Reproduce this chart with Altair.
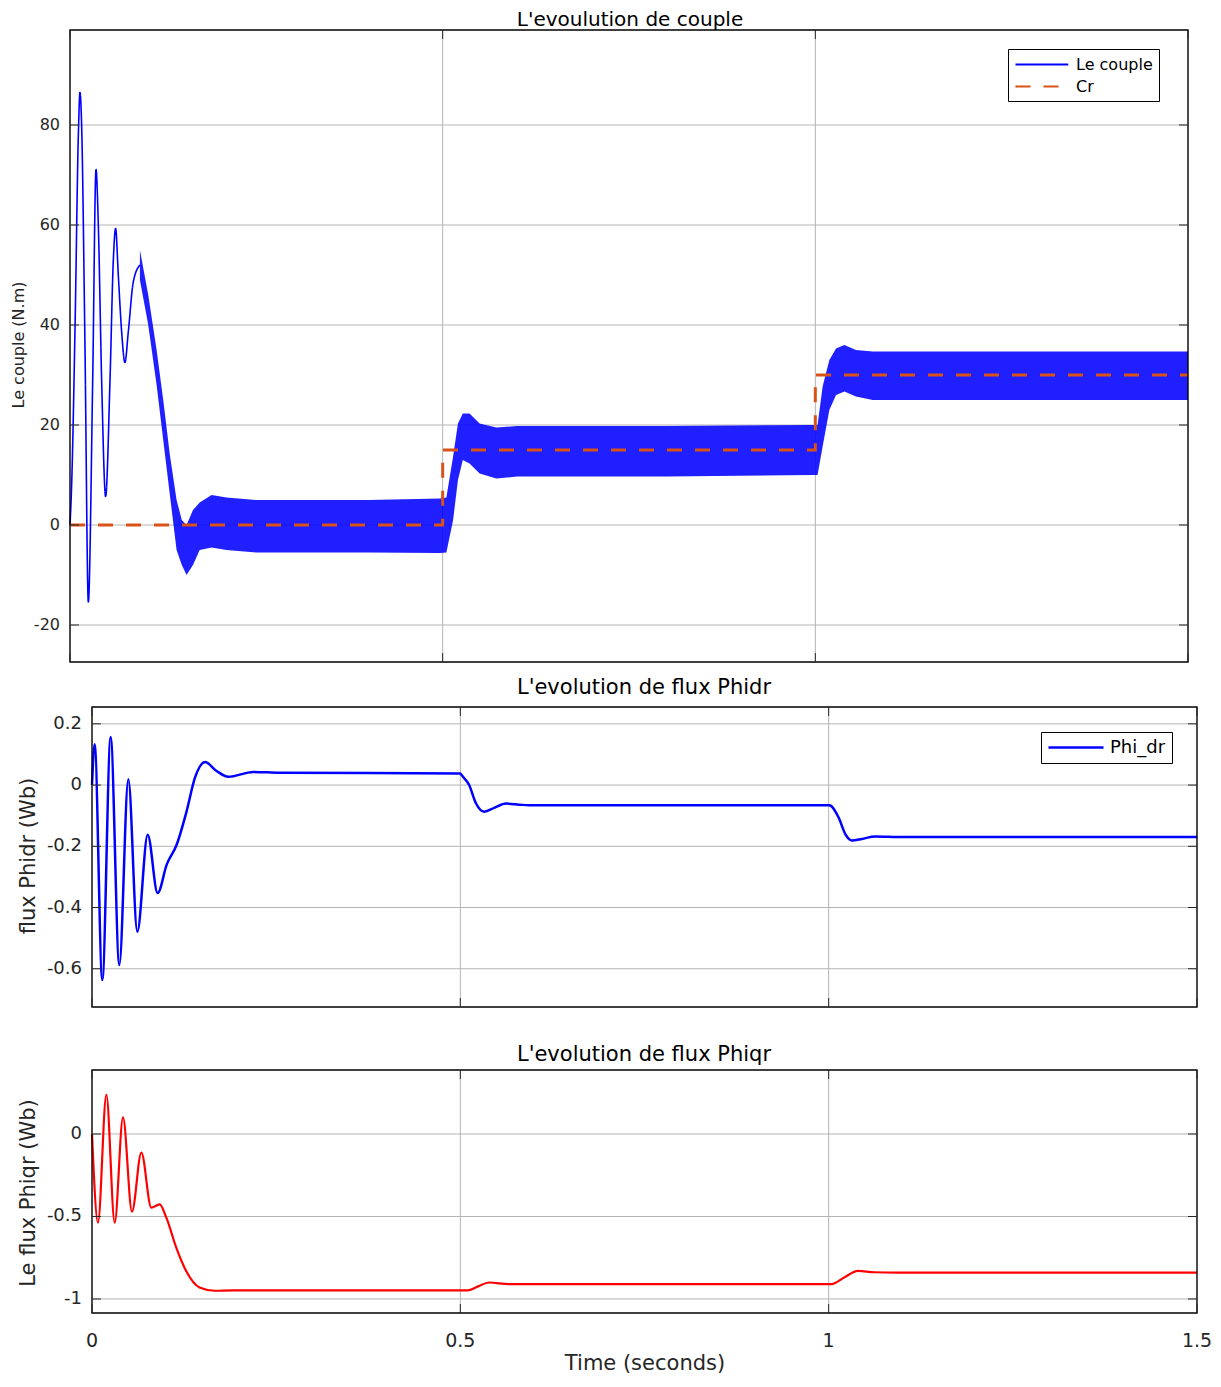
import altair as alt
import pandas as pd

# ---------------- values ----------------
# Top panel: electromagnetic torque (transient part, thin line)
COUPLE_T = [0.0, 0.0022, 0.0067, 0.0112, 0.0134, 0.0156, 0.0201, 0.0246, 0.0304, 0.0349,
            0.038, 0.0425, 0.0478, 0.0536, 0.0581, 0.0612, 0.0648, 0.0693, 0.0737,
            0.0782, 0.0849, 0.0938]
COUPLE_V = [0.0, 8.0, 39.0, 78.0, 86.5, 80.0, 35.7, -15.4, 28.6, 71.1,
            60.0, 28.6, 5.7, 28.6, 52.9, 59.3, 50.0, 38.6, 32.5,
            38.6, 48.6, 52.0]
# Top panel: envelope of the rippled torque band
BAND_T = [0.0938, 0.105, 0.1162, 0.1251, 0.134, 0.143, 0.150, 0.1564, 0.165, 0.174,
          0.19, 0.21, 0.25, 0.3, 0.4, 0.497, 0.505, 0.514, 0.5205, 0.527, 0.536,
          0.5496, 0.572, 0.6, 0.8, 0.997, 1.003, 1.0098, 1.0188, 1.0278, 1.039,
          1.0545, 1.077, 1.1, 1.3, 1.5]
BAND_HI = [55, 46, 35, 25, 14, 5, 1, 0, 3, 4.5,
           6, 5.5, 5, 5, 5, 5.3, 5.5, 13.7, 20.3, 22.3, 22.3,
           20.3, 19.5, 19.8, 19.8, 20, 20, 27.7, 33, 35.3, 36,
           35, 34.7, 34.7, 34.7, 34.7]
BAND_LO = [49, 40, 28, 17, 6, -5, -8, -10, -8, -5,
           -4.5, -5, -5.5, -5.5, -5.5, -5.6, -5.5, 1, 9, 13, 12.3,
           10.3, 9.3, 9.7, 9.7, 10, 10, 15.7, 23, 26, 26.7,
           25.7, 25, 25, 25, 25]
# Load torque reference Cr
CR_T = [0.0, 0.5, 0.5, 1.0, 1.0, 1.5]
CR_V = [0, 0, 15, 15, 30, 30]
# Middle panel: Phidr
PHIDR_T = [0.0, 0.0036, 0.014, 0.0253, 0.0371, 0.0493, 0.0615, 0.0756, 0.0891, 0.1014,
           0.1149, 0.1285, 0.1398, 0.1534, 0.1692, 0.185, 0.219, 0.255, 0.5, 0.5009,
           0.512, 0.521, 0.5325, 0.546, 0.562, 0.58, 0.5935, 1.0, 1.0009, 1.0135,
           1.0226, 1.0316, 1.045, 1.063, 1.099, 1.5]
PHIDR_V = [0.0, 0.133, -0.637, 0.157, -0.588, 0.019, -0.479, -0.162, -0.353, -0.26,
           -0.195, -0.085, 0.024, 0.075, 0.046, 0.027, 0.043, 0.04, 0.038, 0.035,
           0.0, -0.0585, -0.087, -0.0745, -0.0606, -0.064, -0.066, -0.066, -0.066, -0.106,
           -0.16, -0.181, -0.176, -0.168, -0.17, -0.17]
# Bottom panel: Phiqr
PHIQR_T = [0.0, 0.0081, 0.0195, 0.0308, 0.0421, 0.0543, 0.067, 0.0805, 0.0919, 0.1009,
           0.1145, 0.128, 0.146, 0.1665, 0.191, 0.5, 0.51, 0.5234, 0.5392, 0.566,
           0.598, 1.0, 1.0036, 1.0216, 1.0397, 1.062, 1.094, 1.5]
PHIQR_V = [0.0, -0.538, 0.237, -0.538, 0.101, -0.471, -0.112, -0.446, -0.426, -0.507,
           -0.69, -0.832, -0.93, -0.95, -0.948, -0.948, -0.948, -0.925, -0.9, -0.91,
           -0.91, -0.91, -0.91, -0.868, -0.83, -0.838, -0.84, -0.84]

X_TICKS = [0, 0.5, 1, 1.5]
X_TICK_LABELS = ["0", "0.5", "1", "1.5"]
TOP_YTICKS = [-20, 0, 20, 40, 60, 80]
TOP_YLABELS = ["-20", "0", "20", "40", "60", "80"]
MID_YTICKS = [-0.6, -0.4, -0.2, 0, 0.2]
MID_YLABELS = ["-0.6", "-0.4", "-0.2", "0", "0.2"]
BOT_YTICKS = [-1, -0.5, 0]
BOT_YLABELS = ["-1", "-0.5", "0"]

TOP_TITLE = "L'evoulution de couple"
MID_TITLE = "L'evolution de flux Phidr"
BOT_TITLE = "L'evolution de flux Phiqr"
TOP_YTITLE = "Le couple (N.m)"
MID_YTITLE = "flux Phidr (Wb)"
BOT_YTITLE = "Le flux Phiqr (Wb)"
X_TITLE = "Time (seconds)"
TOP_SERIES = ["Le couple", "Cr"]
MID_SERIES = ["Phi_dr"]

# ---------------- style ----------------
FONT = "DejaVu Sans"
GRID = "#b4b4b4"
TXT = "#262626"
W, H = 1205, 1368

# pixel layout of the three panels (chart coordinates)
P1 = dict(x0=62, x1=1180, y0=22, y1=654)
P2 = dict(x0=84, x1=1189, y0=699, y1=999)
P3 = dict(x0=84, x1=1189, y0=1062, y1=1305)

XDOM = [0, 1.5]
Y1DOM = [-27.4, 99]
Y2DOM = [-0.725, 0.255]
Y3DOM = [-1.085, 0.388]

X1 = alt.Scale(domain=XDOM, range=[P1["x0"], P1["x1"]], nice=False, zero=False)
Y1 = alt.Scale(domain=Y1DOM, range=[P1["y1"], P1["y0"]], nice=False, zero=False)
X2 = alt.Scale(domain=XDOM, range=[P2["x0"], P2["x1"]], nice=False, zero=False)
Y2 = alt.Scale(domain=Y2DOM, range=[P2["y1"], P2["y0"]], nice=False, zero=False)
X3 = alt.Scale(domain=XDOM, range=[P3["x0"], P3["x1"]], nice=False, zero=False)
Y3 = alt.Scale(domain=Y3DOM, range=[P3["y1"], P3["y0"]], nice=False, zero=False)


def frame_layers(P, xs, ys, xdom, ydom, yticks, ylabels, label_size):
    ydf = pd.DataFrame({"v": yticks, "lab": ylabels})
    xdf = pd.DataFrame({"t": X_TICKS})
    fdf = pd.DataFrame({"a": [xdom[0]], "b": [xdom[1]], "c": [ydom[0]], "d": [ydom[1]]})
    hgrid = alt.Chart(ydf).mark_rule(color=GRID, strokeWidth=1).encode(
        y=alt.Y("v:Q", scale=ys, axis=None),
        x=alt.value(P["x0"]), x2=alt.value(P["x1"]))
    vgrid = alt.Chart(xdf).mark_rule(color=GRID, strokeWidth=1).encode(
        x=alt.X("t:Q", scale=xs, axis=None),
        y=alt.value(P["y0"]), y2=alt.value(P["y1"]))
    lticks = alt.Chart(ydf).mark_rule(color=TXT, strokeWidth=1).encode(
        y=alt.Y("v:Q", scale=ys, axis=None),
        x=alt.value(P["x0"]), x2=alt.value(P["x0"] + 9))
    rticks = alt.Chart(ydf).mark_rule(color=TXT, strokeWidth=1).encode(
        y=alt.Y("v:Q", scale=ys, axis=None),
        x=alt.value(P["x1"] - 9), x2=alt.value(P["x1"]))
    bticks = alt.Chart(xdf).mark_rule(color=TXT, strokeWidth=1).encode(
        x=alt.X("t:Q", scale=xs, axis=None),
        y=alt.value(P["y1"] - 9), y2=alt.value(P["y1"]))
    tticks = alt.Chart(xdf).mark_rule(color=TXT, strokeWidth=1).encode(
        x=alt.X("t:Q", scale=xs, axis=None),
        y=alt.value(P["y0"]), y2=alt.value(P["y0"] + 9))
    frame = alt.Chart(fdf).mark_rect(filled=False, stroke="#000000", strokeWidth=1.3).encode(
        x=alt.X("a:Q", scale=xs, axis=None), x2="b:Q",
        y=alt.Y("c:Q", scale=ys, axis=None), y2="d:Q")
    ylab = alt.Chart(ydf).mark_text(align="right", baseline="middle", font=FONT,
                                    fontSize=label_size, color=TXT).encode(
        y=alt.Y("v:Q", scale=ys, axis=None),
        x=alt.value(P["x0"] - 10), text="lab:N")
    return [hgrid, vgrid], [frame, lticks, rticks, bticks, tticks, ylab]


# ---------------- top panel ----------------
couple_df = pd.DataFrame({"t": COUPLE_T, "v": COUPLE_V, "series": TOP_SERIES[0]})
cr_df = pd.DataFrame({"t": CR_T, "v": CR_V, "series": TOP_SERIES[1]})
band_df = pd.DataFrame({"t": BAND_T, "lo": BAND_LO, "hi": BAND_HI})

# legend sample line: a long horizontal path drawn from a small symbol cell
top_legend = alt.Legend(orient="none", legendX=1000, legendY=41, title=None,
                        direction="vertical", strokeColor="#000000", fillColor="#ffffff",
                        padding=6, symbolType="M-1,0H5.6", symbolSize=256,
                        symbolStrokeWidth=2.2, labelFont=FONT, labelFontSize=16,
                        labelColor="#000000", rowPadding=4, labelOffset=43)
top_color = alt.Color("series:N", scale=alt.Scale(domain=TOP_SERIES,
                                                  range=["#0000FF", "#D95319"]),
                      legend=top_legend)
top_dash = alt.StrokeDash("series:N", scale=alt.Scale(domain=TOP_SERIES,
                                                      range=[[1, 0], [15, 13]]),
                          legend=top_legend)

band = alt.Chart(band_df).mark_area(color="#0000FF", opacity=0.88).encode(
    x=alt.X("t:Q", scale=X1, axis=None),
    y=alt.Y("lo:Q", scale=Y1, axis=None), y2="hi:Q")
couple_line = alt.Chart(couple_df).mark_line(strokeWidth=1.6, interpolate="monotone").encode(
    x=alt.X("t:Q", scale=X1, axis=None),
    y=alt.Y("v:Q", scale=Y1, axis=None),
    color=top_color, strokeDash=top_dash)
cr_line = alt.Chart(cr_df).mark_line(strokeWidth=3).encode(
    x=alt.X("t:Q", scale=X1, axis=None),
    y=alt.Y("v:Q", scale=Y1, axis=None),
    color=top_color, strokeDash=top_dash)

g1, f1 = frame_layers(P1, X1, Y1, XDOM, Y1DOM, TOP_YTICKS, TOP_YLABELS, 16)
top_panel = alt.layer(*g1, band, couple_line, cr_line, *f1)

# ---------------- middle panel ----------------
phidr_df = pd.DataFrame({"t": PHIDR_T, "v": PHIDR_V, "series": MID_SERIES[0]})
mid_legend = alt.Legend(orient="none", legendX=1033, legendY=724, title=None,
                        strokeColor="#000000", fillColor="#ffffff", padding=6,
                        symbolType="M-1,0H5.875", symbolSize=256, symbolStrokeWidth=2.5,
                        labelFont=FONT, labelFontSize=18, labelColor="#000000",
                        labelOffset=44)
phidr_line = alt.Chart(phidr_df).mark_line(strokeWidth=2.5, interpolate="monotone").encode(
    x=alt.X("t:Q", scale=X2, axis=None),
    y=alt.Y("v:Q", scale=Y2, axis=None),
    color=alt.Color("series:N", scale=alt.Scale(domain=MID_SERIES, range=["#0000FF"]),
                    legend=mid_legend))
g2, f2 = frame_layers(P2, X2, Y2, XDOM, Y2DOM, MID_YTICKS, MID_YLABELS, 18)
mid_panel = alt.layer(*g2, phidr_line, *f2)

# ---------------- bottom panel ----------------
phiqr_df = pd.DataFrame({"t": PHIQR_T, "v": PHIQR_V})
phiqr_line = alt.Chart(phiqr_df).mark_line(color="#FF0000", strokeWidth=2.2,
                                           interpolate="monotone").encode(
    x=alt.X("t:Q", scale=X3, axis=None),
    y=alt.Y("v:Q", scale=Y3, axis=None))
xlab = alt.Chart(pd.DataFrame({"t": X_TICKS, "lab": X_TICK_LABELS})).mark_text(
    align="center", baseline="alphabetic", font=FONT, fontSize=19, color=TXT).encode(
    x=alt.X("t:Q", scale=X3, axis=None), y=alt.value(1339), text="lab:N")
g3, f3 = frame_layers(P3, X3, Y3, XDOM, Y3DOM, BOT_YTICKS, BOT_YLABELS, 18)
bot_panel = alt.layer(*g3, phiqr_line, *f3, xlab)


# ---------------- titles ----------------
def label(text, x, y, size, angle=0, color="#000000"):
    kw = dict(align="center", baseline="alphabetic", font=FONT, fontSize=size, color=color)
    if angle:
        kw["angle"] = angle
    return alt.Chart(pd.DataFrame({"lab": [text]})).mark_text(**kw).encode(
        x=alt.value(x), y=alt.value(y), text="lab:N")


texts = [
    label(TOP_TITLE, 622, 18, 20),
    label(MID_TITLE, 636, 686, 21),
    label(BOT_TITLE, 636, 1053, 21),
    label(TOP_YTITLE, 16, 337, 16, angle=270, color=TXT),
    label(MID_YTITLE, 27, 848, 21, angle=270, color=TXT),
    label(BOT_YTITLE, 27, 1185, 21, angle=270, color=TXT),
    label(X_TITLE, 637, 1362, 21, color=TXT),
]

chart = alt.layer(top_panel, mid_panel, bot_panel, *texts).resolve_scale(
    x="independent", y="independent", color="independent", strokeDash="independent"
).properties(
    width=W, height=H, padding=0,
    autosize=alt.AutoSizeParams(type="none"),
    background="#ffffff",
).configure_view(stroke="transparent")

chart.save("out.html", embed_options={"renderer": "svg", "actions": False})
